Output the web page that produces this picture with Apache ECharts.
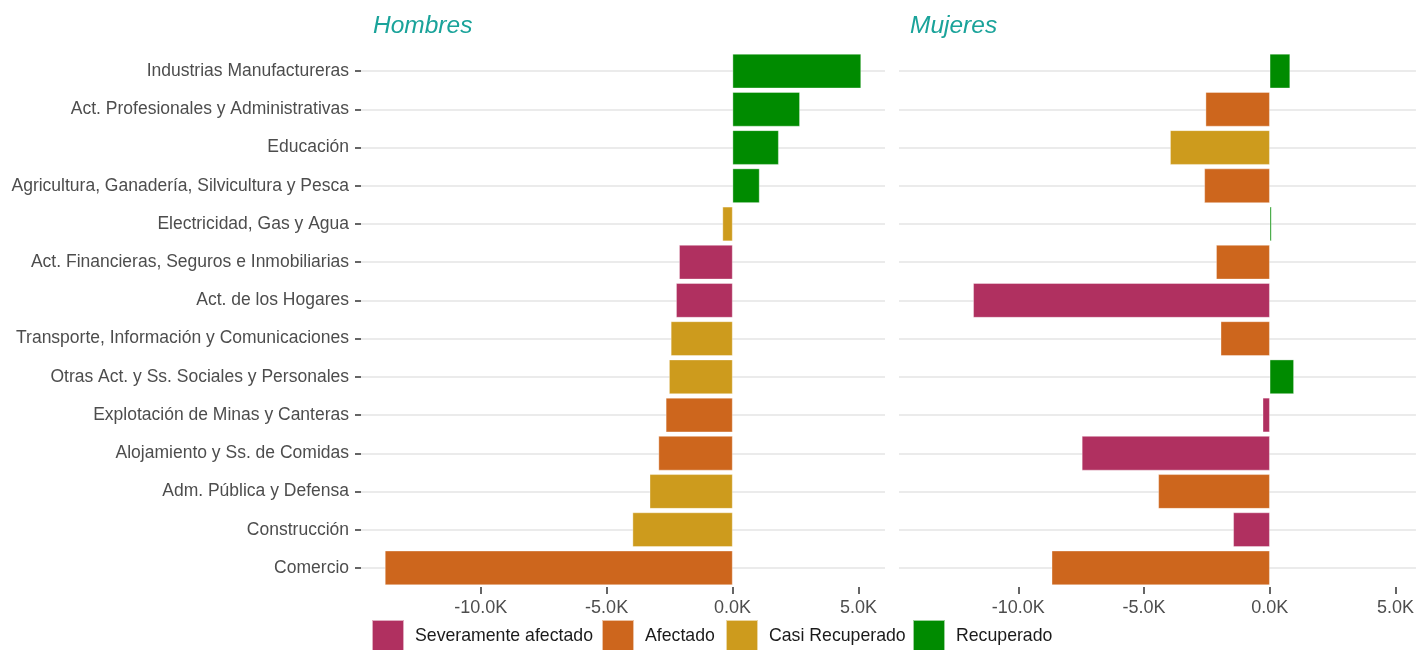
<!DOCTYPE html>
<html>
<head>
<meta charset="utf-8">
<script src="https://cdn.jsdelivr.net/npm/echarts@6/dist/echarts.min.js"></script>
<style>
  html, body { margin: 0; padding: 0; background: #fff; }
  #chart { width: 1417px; height: 650px; }
</style>
</head>
<body>
<div id="chart"></div>
<script>
// sectores, de arriba hacia abajo
var categories = [
    "Industrias Manufactureras",
    "Act. Profesionales y Administrativas",
    "Educación",
    "Agricultura, Ganadería, Silvicultura y Pesca",
    "Electricidad, Gas y Agua",
    "Act. Financieras, Seguros e Inmobiliarias",
    "Act. de los Hogares",
    "Transporte, Información y Comunicaciones",
    "Otras Act. y Ss. Sociales y Personales",
    "Explotación de Minas y Canteras",
    "Alojamiento y Ss. de Comidas",
    "Adm. Pública y Defensa",
    "Construcción",
    "Comercio"
];
var panelTitles = ["Hombres", "Mujeres"];
var statusNames = ["Severamente afectado", "Afectado", "Casi Recuperado", "Recuperado"];
var statusColors = ["#B03060", "#CD661D", "#CD9B1D", "#008B00"];

var hombresValues = [5100, 2670, 1830, 1070, -400, -2120, -2240, -2450, -2520, -2650, -2940, -3290, -3970, -13800];
var hombresStatus = [3, 3, 3, 3, 2, 0, 0, 2, 2, 1, 1, 2, 2, 1];
var mujeresValues = [810, -2550, -3960, -2600, 70, -2130, -11790, -1950, 960, -280, -7470, -4430, -1450, -8670];
var mujeresStatus = [3, 1, 2, 1, 3, 1, 0, 1, 3, 0, 0, 1, 0, 1];

var tickValues = [-10000, -5000, 0, 5000];

var fontFamily = "'Liberation Sans', Arial, sans-serif";
var textGrey = "#4D4D4D";

var chart = echarts.init(document.getElementById("chart"));

// el panel derecho queda recortado por el borde de la imagen
var panels = [
    { values: hombresValues, status: hombresStatus, left: 361, width: 524, min: -14750, max: 6050 },
    { values: mujeresValues, status: mujeresStatus, left: 899, width: 518, min: -14742, max: 5813 }
];
var legendLefts = [371, 601, 725, 912];

var series = [];
panels.forEach(function (panel, p)
{
    statusNames.forEach(function (name, s)
    {
        series.push({
            name: name,
            type: "bar",
            stack: "panel" + p,
            xAxisIndex: p,
            yAxisIndex: p,
            barWidth: "90%",
            itemStyle: { color: statusColors[s], borderColor: "rgba(255,255,255,0.6)", borderWidth: 0.6 },
            data: panel.values.map(function (v, i)
            {
                return panel.status[i] === s ? v : "-";
            })
        });
    });
});

var option = {
    animation: false,
    textStyle: { fontFamily: fontFamily },
    title: panelTitles.map(function (t, p)
    {
        return {
            text: t,
            left: p === 0 ? 373 : 910,
            top: 14,
            padding: 0,
            textStyle: { fontSize: 24.5, fontStyle: "italic", fontWeight: "normal", color: "#1AA39A", fontFamily: fontFamily }
        };
    }),
    legend: statusNames.map(function (name, s)
    {
        return {
            data: [name],
            left: legendLefts[s],
            top: 619,
            icon: "rect",
            itemWidth: 32,
            itemHeight: 32,
            padding: 0,
            textStyle: { fontSize: 17.7, color: "#1A1A1A", fontFamily: fontFamily, padding: [0, 0, 0, 6] }
        };
    }),
    grid: panels.map(function (panel)
    {
        return { left: panel.left, width: panel.width, top: 52, bottom: 63, containLabel: false };
    }),
    xAxis: panels.map(function (panel, p)
    {
        return {
            type: "value",
            gridIndex: p,
            min: panel.min,
            max: panel.max,
            axisLine: { show: false },
            axisTick: { show: true, length: 7, customValues: tickValues, lineStyle: { color: "#333", width: 1.5 } },
            axisLabel: {
                customValues: tickValues,
                margin: 12,
                fontSize: 18,
                color: textGrey,
                fontFamily: fontFamily,
                formatter: function (v) { return (v / 1000).toFixed(1) + "K"; }
            },
            splitLine: { show: false }
        };
    }),
    yAxis: panels.map(function (panel, p)
    {
        return {
            type: "category",
            gridIndex: p,
            inverse: true,
            data: categories,
            axisLine: { show: false, onZero: false },
            axisTick: { show: p === 0, alignWithLabel: true, length: 6, lineStyle: { color: "#333", width: 1.5 } },
            axisLabel: { show: p === 0, margin: 12, fontSize: 17.5, color: textGrey, fontFamily: fontFamily },
            splitLine: { show: true, alignWithLabel: true, lineStyle: { color: "#EBEBEB", width: 2 } }
        };
    }),
    series: series
};

chart.setOption(option);
</script>
</body>
</html>
